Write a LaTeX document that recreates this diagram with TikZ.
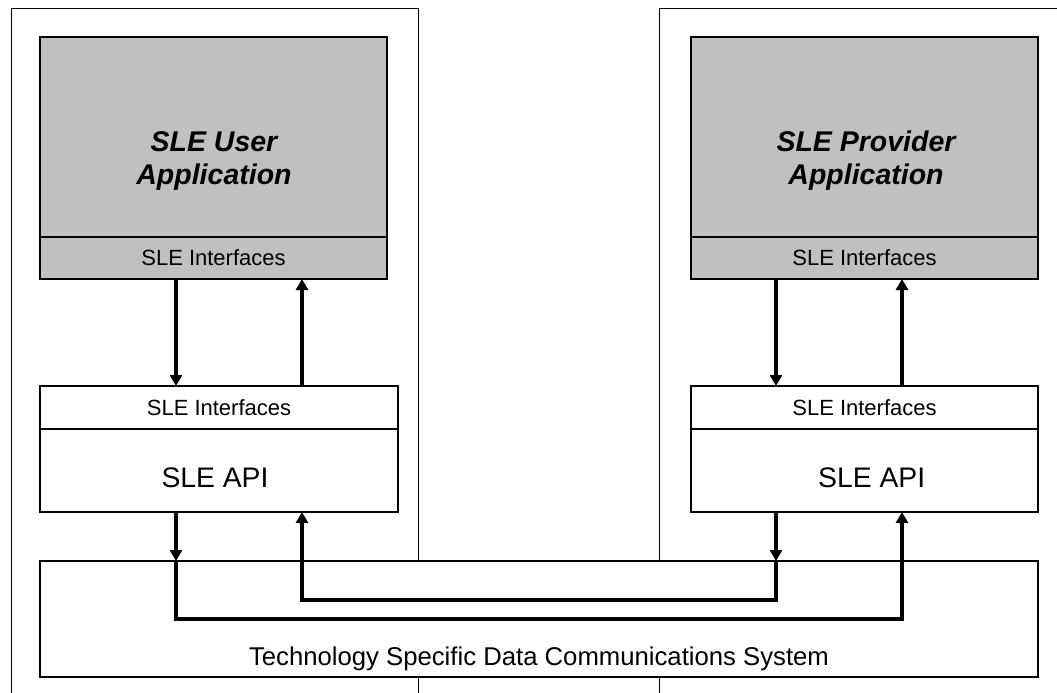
\documentclass[tikz,border=0pt]{standalone}
\usepackage{fontspec}
\setmainfont{Liberation Sans}
\usetikzlibrary{arrows.meta}
\definecolor{appgray}{HTML}{C0C0C0}
\begin{document}
\begin{tikzpicture}[x=1pt,y=-1pt,
  box/.style={draw=black,anchor=north west,inner sep=0pt,outer sep=0pt},
  sidebox/.style={box,line width=0.9pt},
  appbox/.style={box,fill=appgray,line width=1.8pt},
  apibox/.style={box,fill=white,line width=1.2pt},
  conn/.style={line width=3.6pt,-{Triangle[length=11pt,width=12pt]}},
  titlefont/.style={font=\fontsize{28.5}{33}\selectfont\bfseries\itshape},
  iffont/.style={font=\fontsize{22}{26}\selectfont},
  apifont/.style={font=\fontsize{28.3}{33}\selectfont},
  techfont/.style={font=\fontsize{25.7}{30}\selectfont}]
\path[use as bounding box,fill=white] (0,0) rectangle (1057,693);
\clip (0,0) rectangle (1057,693);
% columns / rows of connectors
\coordinate (xa) at (176,0);
\coordinate (xb) at (302,0);
\coordinate (xc) at (776,0);
\coordinate (xd) at (902,0);
\coordinate (yl1) at (0,619);
\coordinate (yl2) at (0,600);
% outer sides
\node[sidebox,minimum width=407pt,minimum height=720pt] (userside) at (11,8) {};
\node[sidebox,minimum width=440pt,minimum height=720pt] (provside) at (659,8) {};
% applications
\node[appbox,minimum width=347pt,minimum height=242pt] (userapp) at (40,37) {};
\node[appbox,minimum width=347pt,minimum height=42pt,iffont] (userif) at (40,237) {SLE Interfaces};
\node[titlefont,align=center,inner sep=0pt] (usertitle) at (214,161) {SLE User\\Application};
\node[appbox,minimum width=347pt,minimum height=242pt] (provapp) at (691,37) {};
\node[appbox,minimum width=347pt,minimum height=42pt,iffont] (provif) at (691,237) {SLE Interfaces};
\node[titlefont,align=center,inner sep=0pt] (provtitle) at (866,161) {SLE Provider\\Application};
% API boxes
\node[apibox,minimum width=358pt,minimum height=126pt] (userapi) at (40,386) {};
\node[apibox,minimum width=358pt,minimum height=43pt,iffont] (userapiif) at (40,386) {SLE Interfaces};
\node[apifont,anchor=base] (userapitxt) at (215,487.7) {SLE API};
\node[apibox,minimum width=347pt,minimum height=126pt] (provapi) at (691,386) {};
\node[apibox,minimum width=347pt,minimum height=43pt,iffont] (provapiif) at (691,386) {SLE Interfaces};
\node[apifont,anchor=base] (provapitxt) at (871.7,487.7) {SLE API};
% communications system
\node[apibox,minimum width=998pt,minimum height=116pt] (tech) at (40,561) {};
\node[techfont,anchor=base] (techtxt) at (539,665) {Technology Specific Data Communications System};
% vertical links application <-> API
\draw[conn] (userif.south -| xa) -- (userapiif.north -| xa);
\draw[conn] (userapiif.north -| xb) -- (userif.south -| xb);
\draw[conn] (provif.south -| xc) -- (provapiif.north -| xc);
\draw[conn] (provapiif.north -| xd) -- (provif.south -| xd);
% links through the communications system
\draw[conn] (userapi.south -| xa) -- (tech.north -| xa);
\draw[conn] (tech.north -| xa) -- (yl1 -| xa) -- (yl1 -| xd) -- (provapi.south -| xd);
\draw[conn] (provapi.south -| xc) -- (tech.north -| xc);
\draw[conn] (tech.north -| xc) -- (yl2 -| xc) -- (yl2 -| xb) -- (userapi.south -| xb);
\end{tikzpicture}
\end{document}
